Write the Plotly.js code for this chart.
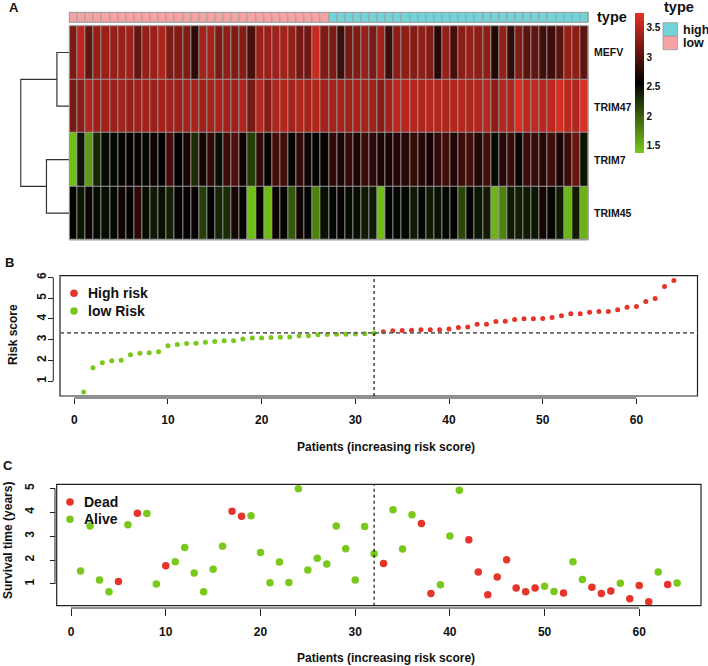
<!DOCTYPE html>
<html><head><meta charset="utf-8">
<script src="https://cdn.plot.ly/plotly-3.0.1.min.js"></script>
<style>html,body{margin:0;padding:0;background:#fff}#chart{width:708px;height:666px}</style>
</head><body><div id="chart"></div>
<script>
// ---------------- DATA ----------------
const genes = ['MEFV','TRIM47','TRIM7','TRIM45'];
const patients = [1,2,3,4,5,6,7,8,9,10,11,12,13,14,15,16,17,18,19,20,21,22,23,24,25,26,27,28,29,30,31,32,
  33,34,35,36,37,38,39,40,41,42,43,44,45,46,47,48,49,50,51,52,53,54,55,56,57,58,59,60,61,62,63,64];
const riskGroup = ['low','low','low','low','low','low','low','low','low','low','low','low','low','low','low','low',
  'low','low','low','low','low','low','low','low','low','low','low','low','low','low','low','low',
  'high','high','high','high','high','high','high','high','high','high','high','high','high','high','high','high',
  'high','high','high','high','high','high','high','high','high','high','high','high','high','high','high','high'];
const exprMEFV = [3.20,3.54,3.08,3.33,3.36,3.33,3.36,3.38,3.08,3.33,3.36,3.46,3.20,3.23,3.23,2.80,
  3.41,3.41,3.20,3.30,3.23,3.25,2.95,3.36,3.36,3.38,3.41,3.33,3.15,3.13,3.59,3.23,
  3.20,2.88,3.18,3.23,3.33,3.20,3.41,2.88,3.30,3.30,3.25,3.30,3.23,2.77,3.33,2.92,
  3.28,3.33,3.30,3.30,2.74,3.33,2.82,3.23,3.03,3.08,2.92,2.88,3.03,3.33,3.30,3.05];
const exprTRIM47 = [3.18,3.28,3.46,3.36,3.38,3.36,3.41,3.33,3.38,3.41,3.36,3.41,3.38,3.36,3.41,3.43,
  3.38,3.41,3.43,3.41,3.38,3.46,3.18,3.51,3.25,3.46,3.49,3.41,3.46,3.43,3.49,3.41,
  3.41,3.43,3.38,3.43,3.41,3.38,3.28,3.41,3.54,3.51,3.49,3.46,3.51,3.49,3.46,3.49,
  3.51,3.46,3.49,3.51,3.30,3.49,3.46,3.67,3.54,3.56,3.51,3.54,3.67,3.54,3.49,3.69];
const exprTRIM7 = [1.45,2.45,1.65,2.35,2.50,2.52,2.60,2.55,2.62,2.52,2.65,2.55,2.92,2.57,2.70,2.30,
  2.68,2.82,2.48,2.88,2.97,2.65,2.20,2.82,2.55,2.92,2.90,2.55,2.82,2.65,2.55,2.60,
  2.80,2.72,2.82,2.72,2.87,2.80,2.72,2.70,2.75,2.77,2.82,2.77,2.67,2.82,2.90,2.72,
  2.87,2.90,2.75,2.92,2.50,2.77,2.85,2.62,2.87,2.85,2.77,2.90,2.70,2.87,3.10,2.45];
const exprTRIM45 = [2.55,2.45,2.62,2.50,2.48,2.52,2.65,2.55,2.80,2.50,2.42,2.48,2.38,2.55,2.60,2.60,
  2.20,2.55,2.35,2.30,2.68,2.55,1.45,2.55,1.47,2.62,2.55,2.05,2.65,2.55,1.80,2.47,
  2.53,2.60,2.50,2.48,2.42,2.42,1.45,2.55,2.53,2.52,2.42,2.53,2.42,2.47,2.53,2.55,
  2.15,2.55,2.44,2.40,1.50,1.80,2.42,2.40,2.42,2.44,2.68,2.53,2.42,1.50,2.40,1.52];
const dendroMerge = [[-1,-2],[-3,-4],[1,2]];
const dendroHeight = [1.02,1.88,4.0];
const exprRange = [1.38,3.75];
const exprTicks = [1.5,2,2.5,3,3.5];
const typeLevels = ['high','low'];
const typeColors = ['#72D3D8','#F7A3A3'];

const riskScore = [0.47,1.64,1.88,1.98,2.01,2.27,2.35,2.37,2.42,2.71,2.77,2.81,2.83,2.88,2.91,2.95,
  2.95,3.03,3.08,3.08,3.10,3.12,3.13,3.19,3.19,3.24,3.25,3.26,3.26,3.27,3.29,3.31,
  3.38,3.43,3.44,3.45,3.48,3.48,3.48,3.51,3.59,3.61,3.75,3.75,3.88,3.89,3.98,4.01,
  4.01,4.02,4.07,4.15,4.25,4.25,4.33,4.36,4.36,4.44,4.57,4.60,4.84,4.99,5.57,5.86];
const riskCutoff = 3.33;
const splitPatient = 32;
const riskLegend = ['High risk','low Risk'];

const survTime = [1.54,3.43,1.17,0.67,1.10,3.48,3.96,3.95,1.00,1.76,1.93,2.53,1.46,0.67,1.62,2.58,
  4.04,3.83,3.85,2.32,1.05,1.92,1.06,4.98,1.58,2.08,1.83,3.43,2.47,1.17,3.40,2.26,
  1.86,4.10,2.46,3.90,3.53,0.60,0.97,3.01,4.92,2.85,1.50,0.55,1.29,2.01,0.83,0.67,
  0.83,0.90,0.68,0.62,1.93,1.19,0.86,0.60,0.71,1.03,0.38,0.94,0.26,1.50,0.98,1.04];
const survStatus = ['Alive','Alive','Alive','Alive','Dead','Alive','Dead','Alive','Alive','Dead',
  'Alive','Alive','Alive','Alive','Alive','Alive','Dead','Dead','Alive','Alive',
  'Alive','Alive','Alive','Alive','Alive','Alive','Alive','Alive','Alive','Alive',
  'Alive','Alive','Dead','Alive','Alive','Alive','Dead','Dead','Alive','Alive',
  'Alive','Dead','Dead','Dead','Dead','Dead','Dead','Dead','Dead','Alive',
  'Alive','Dead','Alive','Alive','Dead','Dead','Dead','Alive','Dead','Dead',
  'Dead','Alive','Dead','Alive'];
const statusLegend = ['Dead','Alive'];

const xTicksPatients = [0,10,20,30,40,50,60];
const yTicksRisk = [1,2,3,4,5,6];
const yTicksSurv = [1,2,3,4,5];
const xTitle = 'Patients (increasing risk score)';

// ---------------- STYLE ----------------
const RED = '#E5352A', GREEN = '#7AC81C';
const W = 708, H = 666;
const px = x => x / W, py = y => 1 - y / H;
const FONT = 'Liberation Sans, Arial, Helvetica, sans-serif';
const bold = (size, color) => ({family: FONT, size: size, color: color || '#111', weight: 'bold'});
const cellGrey = '#9c9c9c';

// ---------------- TRACES ----------------
const traces = [];
traces.push({
  type: 'heatmap', x: patients, y: [0,1,2,3],
  z: [exprMEFV, exprTRIM47, exprTRIM7, exprTRIM45],
  zmin: exprRange[0], zmax: exprRange[1],
  colorscale: [[0,'rgb(120,202,24)'],[0.5,'rgb(0,0,0)'],[1,'rgb(232,48,36)']],
  xgap: 1, ygap: 1, xaxis: 'x', yaxis: 'y', hoverinfo: 'skip',
  colorbar: {
    thickness: 9, thicknessmode: 'pixels', len: 140, lenmode: 'pixels',
    x: px(635), xanchor: 'left', y: py(83), yanchor: 'middle', xpad: 0, ypad: 0,
    outlinewidth: 0, tickvals: exprTicks, ticks: '', tickfont: bold(10)
  }
});
traces.push({
  type: 'heatmap', x: patients, y: [0],
  z: [riskGroup.map(g => typeLevels.indexOf(g))],
  zmin: 0, zmax: 1, showscale: false,
  colorscale: [[0,typeColors[0]],[0.5,typeColors[0]],[0.5,typeColors[1]],[1,typeColors[1]]],
  xgap: 1, xaxis: 'x', yaxis: 'y2', hoverinfo: 'skip'
});
// dendrogram
(function(){
  const built = [], xs = [], ys = [];
  const node = r => r < 0 ? {p: -r - 1, h: 0} : built[r - 1];
  dendroMerge.forEach((m, i) => {
    const a = node(m[0]), b = node(m[1]), h = dendroHeight[i];
    xs.push(a.h, h, h, b.h, null); ys.push(a.p, a.p, b.p, b.p, null);
    built.push({p: (a.p + b.p) / 2, h: h});
  });
  traces.push({type: 'scatter', mode: 'lines', x: xs, y: ys, xaxis: 'x3', yaxis: 'y',
    line: {color: '#333', width: 1.2}, hoverinfo: 'skip'});
})();
// risk score
['high','low'].forEach(g => {
  const idx = patients.map((p, i) => i).filter(i => riskGroup[i] === g);
  traces.push({type: 'scatter', mode: 'markers', xaxis: 'x4', yaxis: 'y4',
    x: idx.map(i => patients[i]), y: idx.map(i => riskScore[i]),
    marker: {color: g === 'high' ? RED : GREEN, size: 5}, hoverinfo: 'skip', cliponaxis: false});
});
// survival
statusLegend.forEach(s => {
  const idx = patients.map((p, i) => i).filter(i => survStatus[i] === s);
  traces.push({type: 'scatter', mode: 'markers', xaxis: 'x5', yaxis: 'y5',
    x: idx.map(i => patients[i]), y: idx.map(i => survTime[i]),
    marker: {color: s === 'Dead' ? RED : GREEN, size: 7.5}, hoverinfo: 'skip', cliponaxis: false});
});

// ---------------- SHAPES / ANNOTATIONS ----------------
const shapes = [], annotations = [];
shapes.push({type:'rect', xref:'x domain', yref:'y domain', x0:0, x1:1, y0:0, y1:1, layer:'below', fillcolor:cellGrey, line:{width:0}});
shapes.push({type:'rect', xref:'x domain', yref:'y2 domain', x0:0, x1:1, y0:0, y1:1, layer:'below', fillcolor:cellGrey, line:{width:0}});
shapes.push({type:'rect', xref:'x domain', yref:'y domain', x0:0, x1:1, y0:0, y1:1, fillcolor:'rgba(0,0,0,0)', line:{width:1, color:cellGrey}});
shapes.push({type:'rect', xref:'x domain', yref:'y2 domain', x0:0, x1:1, y0:0, y1:1, fillcolor:'rgba(0,0,0,0)', line:{width:1, color:cellGrey}});

const axCol = '#222';
// boxes
shapes.push({type:'rect', xref:'x4 domain', yref:'y4 domain', x0:0, x1:1, y0:0, y1:1, line:{color:axCol, width:1.2}});
shapes.push({type:'rect', xref:'x5 domain', yref:'y5 domain', x0:0, x1:1, y0:0, y1:1, line:{color:axCol, width:1.2}});
// axis lines
shapes.push({type:'line', xref:'x4', yref:'paper', x0:xTicksPatients[0], x1:xTicksPatients[xTicksPatients.length-1], y0:py(398), y1:py(398), line:{color:axCol, width:1}});
shapes.push({type:'line', xref:'paper', yref:'y4', x0:px(53.3), x1:px(53.3), y0:yTicksRisk[0], y1:yTicksRisk[yTicksRisk.length-1], line:{color:axCol, width:1}});
shapes.push({type:'line', xref:'x5', yref:'paper', x0:xTicksPatients[0], x1:xTicksPatients[xTicksPatients.length-1], y0:py(608), y1:py(608), line:{color:axCol, width:1}});
shapes.push({type:'line', xref:'paper', yref:'y5', x0:px(55), x1:px(55), y0:yTicksSurv[0], y1:yTicksSurv[yTicksSurv.length-1], line:{color:axCol, width:1}});
// reference lines
shapes.push({type:'line', xref:'x4 domain', yref:'y4', x0:0, x1:1, y0:riskCutoff, y1:riskCutoff, line:{color:'#666', width:1.6, dash:'4px,3px'}});
shapes.push({type:'line', xref:'x4', yref:'y4 domain', x0:splitPatient, x1:splitPatient, y0:0, y1:1, line:{color:'#111', width:1.2, dash:'3px,3px'}});
shapes.push({type:'line', xref:'x5', yref:'y5 domain', x0:splitPatient, x1:splitPatient, y0:0, y1:1, line:{color:'#111', width:1.2, dash:'3px,3px'}});

const circle = (cx, cy, r, col) => ({type:'circle', xref:'paper', yref:'paper',
  x0:px(cx-r), x1:px(cx+r), y0:py(cy+r), y1:py(cy-r), fillcolor:col, line:{width:0}});
const label = (text, x, y, size, xanchor, extra) => Object.assign({text:text, xref:'paper', yref:'paper',
  x:px(x), y:py(y), xanchor:xanchor || 'left', yanchor:'middle', showarrow:false, font:bold(size)}, extra || {});

// panel letters
annotations.push(label('A', 14.5, 7, 13, 'center'));
annotations.push(label('B', 9, 262.5, 13, 'center'));
annotations.push(label('C', 7.5, 465.5, 13, 'center'));
// heatmap labels
annotations.push(label('type', 595, 17, 14.5));
const rowY = [52.5, 106.5, 160, 213];
genes.forEach((g, i) => annotations.push(label(g, 591.5, rowY[i], 10.5)));
annotations.push(label('type', 662, 7.5, 14.5));
typeLevels.forEach((t, i) => {
  const y0 = 22.7 + i * 13.5;
  shapes.push({type:'rect', xref:'paper', yref:'paper', x0:px(663), x1:px(677.5), y0:py(y0+13.5), y1:py(y0),
    fillcolor:typeColors[i], line:{color:'#999', width:0.8}});
  annotations.push(label(t, 681, y0 + 6.8, 12.5));
});
// legends
riskLegend.forEach((t, i) => {
  const y = 293.3 + i * 17.7;
  shapes.push(circle(74, y, 3.8, i === 0 ? RED : GREEN));
  annotations.push(label(t, 86, y, 14));
});
statusLegend.forEach((t, i) => {
  const y = 502 + i * 17.3;
  shapes.push(circle(70, y, 3.8, i === 0 ? RED : GREEN));
  annotations.push(label(t, 82, y, 14));
});
// axis titles
annotations.push(label(xTitle, 386, 447, 12, 'center'));
annotations.push(label(xTitle, 386, 658, 12, 'center'));
annotations.push(label('Risk score', 13, 335, 12, 'center', {textangle:-90}));
annotations.push(label('Survival time (years)', 8, 541, 12, 'center', {textangle:-90}));

const hidden = {visible:false, showgrid:false, zeroline:false, fixedrange:true};
const scatterAx = {showgrid:false, zeroline:false, showline:false, ticks:'outside', tickwidth:1, tickcolor:axCol, tickfont:bold(12), fixedrange:true};

const layout = {
  width: W, height: H, margin: {l:0, r:0, t:0, b:0}, paper_bgcolor:'#fff', plot_bgcolor:'#fff',
  showlegend: false, hovermode: false,
  xaxis: Object.assign({}, hidden, {domain:[px(69.3), px(588.3)], range:[0.5, 64.5], anchor:'y'}),
  yaxis: Object.assign({}, hidden, {domain:[py(240), py(25.7)], range:[3.5, -0.5], anchor:'x'}),
  yaxis2: Object.assign({}, hidden, {domain:[py(22.3), py(12.3)], range:[0.5, -0.5], anchor:'x'}),
  xaxis3: Object.assign({}, hidden, {domain:[px(20.1), px(69.3)], range:[4.05, 0], anchor:'y'}),
  xaxis4: Object.assign({}, scatterAx, {domain:[px(60), px(697.5)], range:[-1.52, 66.52], anchor:'free', position:py(398),
    tickvals:xTicksPatients, ticklen:5, ticklabelstandoff:6}),
  yaxis4: Object.assign({}, scatterAx, {domain:[py(396), py(275.7)], range:[0.28, 6.09], anchor:'free', position:px(53.3),
    tickvals:yTicksRisk, ticklen:5, tickangle:-90, ticklabelstandoff:-2}),
  xaxis5: Object.assign({}, scatterAx, {domain:[px(56.7), px(701)], range:[-1.52, 66.52], anchor:'free', position:py(608),
    tickvals:xTicksPatients, ticklen:7, ticklabelstandoff:6}),
  yaxis5: Object.assign({}, scatterAx, {domain:[py(605.7), py(484.3)], range:[0.09, 5.17], anchor:'free', position:px(55),
    tickvals:yTicksSurv, ticklen:5, tickangle:-90, ticklabelstandoff:11}),
  shapes: shapes, annotations: annotations
};
Plotly.newPlot('chart', traces, layout, {staticPlot:true, displayModeBar:false});
</script></body></html>
